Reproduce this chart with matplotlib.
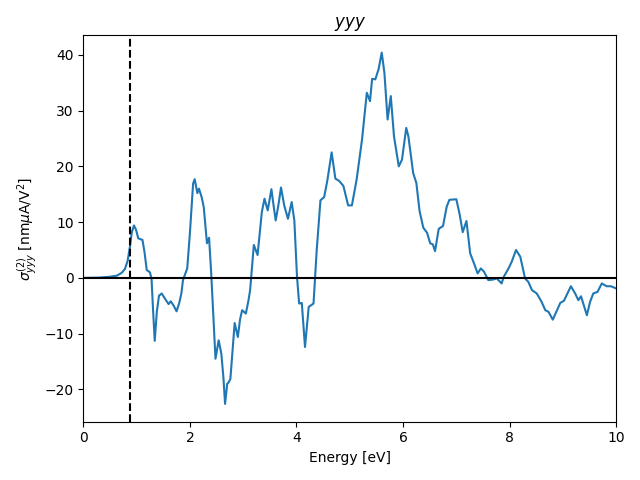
import matplotlib
matplotlib.use("Agg")
from matplotlib import pyplot as plt

# energies [eV] and sigma values
energy = [0.0, 0.3, 0.5, 0.63, 0.72, 0.78, 0.83, 0.875, 0.91, 0.95, 0.99, 1.03, 1.11, 1.15,
          1.19, 1.25, 1.28, 1.31, 1.34, 1.38, 1.42, 1.47, 1.53, 1.6, 1.64, 1.69, 1.75, 1.80,
          1.84, 1.87, 1.95, 2.0, 2.06, 2.09, 2.14, 2.17, 2.22, 2.26, 2.32, 2.36, 2.40, 2.44,
          2.48, 2.54, 2.59, 2.63, 2.66, 2.70, 2.73, 2.76, 2.80, 2.84, 2.90, 2.94, 2.98, 3.05,
          3.10, 3.13, 3.20, 3.27, 3.35, 3.40, 3.46, 3.53, 3.57, 3.61, 3.66, 3.71, 3.77, 3.84,
          3.91, 3.96, 4.01, 4.05, 4.10, 4.16, 4.23, 4.32, 4.38, 4.45, 4.52, 4.58, 4.66, 4.73,
          4.80, 4.88, 4.97, 5.04, 5.13, 5.23, 5.32, 5.38, 5.42, 5.48, 5.54, 5.60, 5.65, 5.71,
          5.77, 5.83, 5.92, 5.98, 6.06, 6.10, 6.19, 6.25, 6.31, 6.38, 6.45, 6.51, 6.56, 6.60,
          6.67, 6.75, 6.82, 6.87, 7.00, 7.06, 7.12, 7.19, 7.26, 7.32, 7.40, 7.46, 7.52, 7.60,
          7.69, 7.76, 7.85, 7.89, 7.98, 8.04, 8.12, 8.20, 8.29, 8.35, 8.42, 8.51, 8.60, 8.67,
          8.73, 8.81, 8.89, 8.95, 9.02, 9.15, 9.23, 9.29, 9.34, 9.45, 9.51, 9.57, 9.65, 9.73,
          9.82, 9.90, 10.0]
sigma = [0.0, 0.05, 0.2, 0.4, 0.9, 1.6, 3.0, 5.6, 8.2, 9.4, 8.6, 7.1, 6.8, 4.5,
         1.4, 1.0, -0.2, -6.0, -11.3, -6.0, -3.2, -2.8, -3.7, -4.7, -4.2, -4.9, -6.0, -4.5,
         -2.8, -0.4, 1.7, 8.0, 16.9, 17.7, 15.2, 16.0, 14.5, 12.7, 6.2, 7.2, 0.8, -7.0,
         -14.5, -11.2, -13.6, -18.0, -22.6, -19.0, -18.7, -18.1, -13.0, -8.1, -10.6, -7.5, -5.8, -6.4,
         -4.0, -2.2, 5.9, 4.1, 11.8, 14.2, 12.1, 15.9, 13.0, 10.3, 13.0, 16.2, 13.0, 10.6,
         13.6, 10.3, 0.2, -4.6, -4.5, -12.4, -5.2, -4.6, 5.0, 13.9, 14.5, 17.5, 22.5, 17.8,
         17.4, 16.5, 13.0, 13.0, 17.7, 24.8, 33.2, 31.7, 35.7, 35.6, 37.4, 40.4, 36.8, 28.4,
         32.6, 25.4, 20.0, 21.2, 26.9, 25.4, 18.8, 17.0, 12.0, 9.0, 8.1, 6.2, 6.0, 4.8,
         8.8, 9.3, 12.8, 14.0, 14.1, 11.5, 8.2, 10.2, 4.4, 2.9, 0.8, 1.7, 1.1, -0.4,
         -0.3, -0.1, -1.0, 0.2, 1.7, 2.9, 5.0, 3.8, -0.1, -0.7, -2.2, -2.8, -4.3, -5.8,
         -6.1, -7.5, -5.8, -4.5, -4.1, -1.5, -2.8, -4.0, -3.3, -6.7, -4.3, -2.8, -2.5, -1.0,
         -1.5, -1.5, -1.9]

band_gap = 0.875

fig, ax = plt.subplots(figsize=(6.4, 4.8), dpi=100)
ax.plot(energy, sigma)
ax.axhline(0, color="black")
ax.axvline(band_gap, color="black", linestyle="--")

ax.set_xlim(0, 10)
ax.set_ylim(-25.8, 43.5)
ax.set_xlabel("Energy [eV]")
ax.set_ylabel(r"$\sigma^{(2)}_{yyy}$ [nm$\mu$A/V$^2$]")
ax.set_title("$yyy$")

plt.tight_layout()
plt.savefig("out.png")
